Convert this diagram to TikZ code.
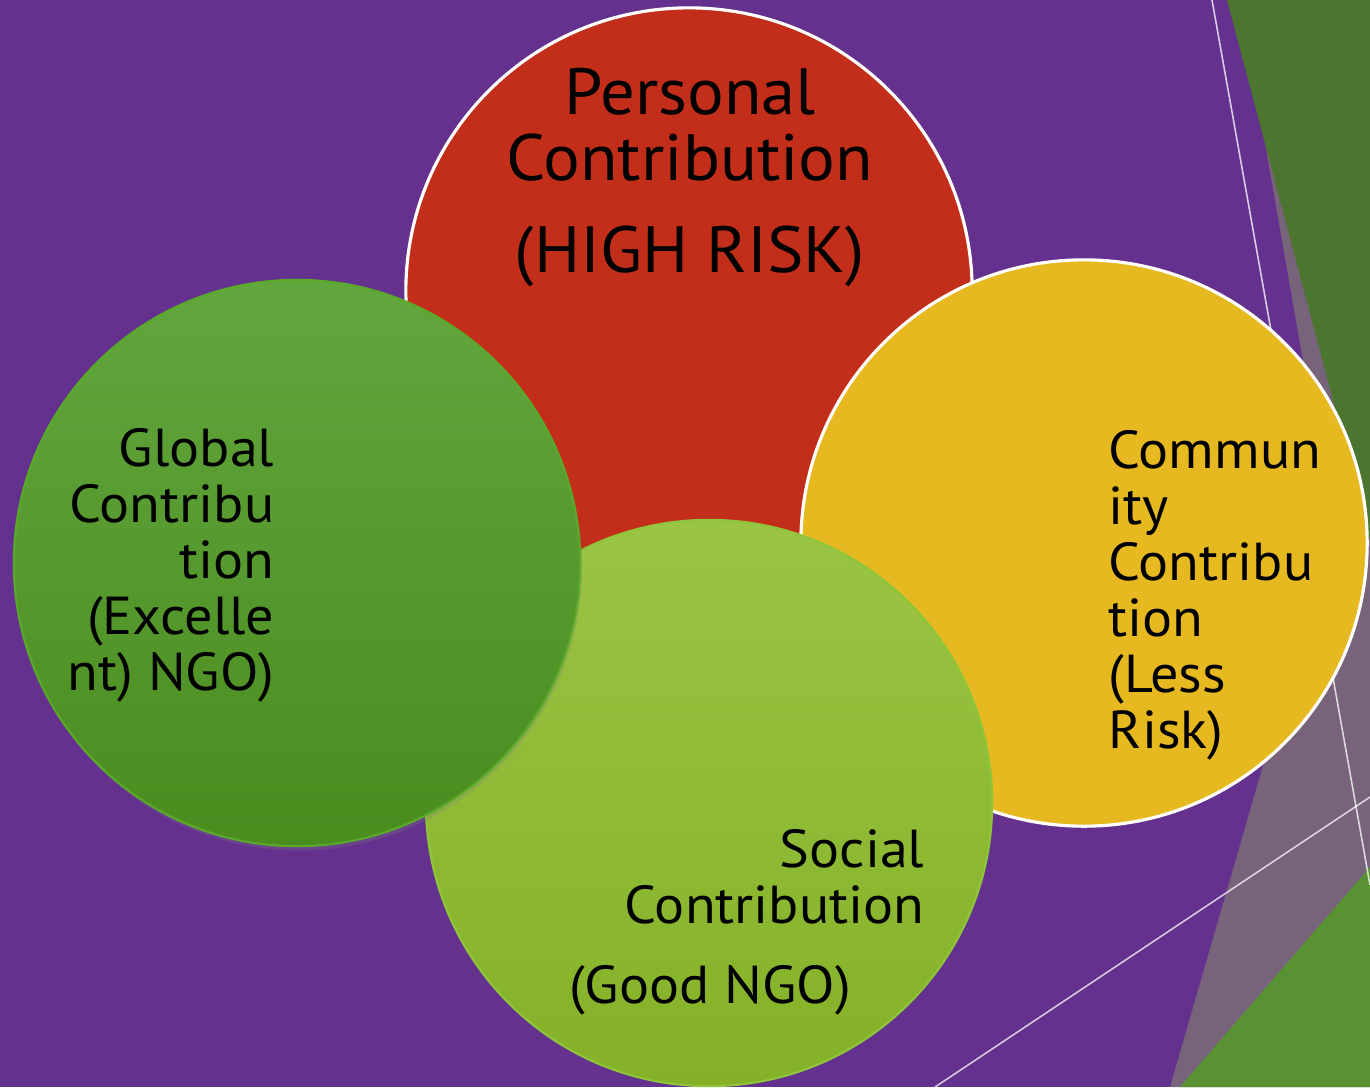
\documentclass[tikz,border=0pt]{standalone}
\usepackage{fontspec}
\setmainfont{PT Sans}[FakeStretch=1.05]
\usepackage{tikz}
\usetikzlibrary{backgrounds}
\usetikzlibrary{shadows}
\definecolor{bgpurple}{RGB}{100,50,142}
\definecolor{redball}{RGB}{195,46,26}
\definecolor{yellowball}{RGB}{229,185,31}
\definecolor{greentop}{RGB}{98,166,62}
\definecolor{greenbot}{RGB}{74,140,30}
\definecolor{greenrim}{RGB}{90,170,42}
\definecolor{limetop}{RGB}{154,196,67}
\definecolor{limebot}{RGB}{133,177,40}
\definecolor{limerim}{RGB}{143,197,58}
\definecolor{facetgreen}{RGB}{76,118,48}
\definecolor{facetgrass}{RGB}{88,146,50}
\definecolor{facetgrey}{RGB}{120,100,122}
\tikzstyle{diagram}=[x=0.01cm, y=-0.01cm]
\tikzstyle{ball}=[circle, inner sep=0pt, minimum size=5.66cm]
\tikzstyle{whiteball}=[ball, draw=white, line width=0.9pt]
\tikzstyle{facetline}=[-, draw=white, draw opacity=0.75, line width=0.45pt]
\tikzstyle{bigtxt}=[inner sep=0pt, align=center, font=\fontsize{18.6}{18.8}\selectfont]
\tikzstyle{txt}=[inner sep=0pt, font=\fontsize{15.2}{15.9}\selectfont]
\newcommand{\picW}{1370}
\newcommand{\picH}{1087}

\begin{document}
\begin{tikzpicture}[diagram]
\useasboundingbox (0,0) rectangle (\picW,\picH);
\fill[bgpurple] (0,0) rectangle (\picW,\picH);

%The facets on the right
\fill[facetgrey] (1240,0) -- (1332,527) -- (1170,\picH) -- (\picW,\picH) -- (\picW,0) -- cycle;
\fill[facetgreen] (1227,0) -- (\picW,0) -- (\picW,540) -- cycle;
\fill[facetgrass] (1180,\picH) -- (\picW,867) -- (\picW,\picH) -- cycle;
\coordinate (l1a) at (1212,0);
\coordinate (l1b) at (\picW,885);
\coordinate (l2a) at (935,\picH);
\coordinate (l2b) at (\picW,797);
\draw[facetline] (l1a) -- (l1b);
\draw[facetline] (l2a) -- (l2b);

%The four circles
\draw (689,291) node[whiteball, fill=redball] (personal) {};
\draw (1084,543) node[whiteball, fill=yellowball] (community) {};
\draw (709,803) node[ball, draw=limerim, line width=0.6pt, top color=limetop, bottom color=limebot] (social) {};
\draw (297,563) node[ball, draw=greenrim, line width=0.6pt, top color=greentop, bottom color=greenbot,
  drop shadow={opacity=0.25, shadow xshift=0.6pt, shadow yshift=-1.2pt}] (global) {};

%The labels
\node[bigtxt, anchor=north] (personaltxt) at (690,67) {Personal\\Contribution\\[7.4pt](HIGH RISK)};
\node[txt, align=right, anchor=north east] (globaltxt) at (275,428) {Global\\Contribu\\tion\\(Excelle\\nt) NGO)};
\node[txt, align=left, anchor=north west] (communitytxt) at (1108,430) {Commun\\ity\\Contribu\\tion\\(Less\\Risk)};
\node[txt, align=right, anchor=north east] (socialtxt) at (925,829) {Social\\Contribution};
\node[txt, anchor=base] (goodtxt) at (710,1003) {(Good NGO)};
\end{tikzpicture}
\end{document}
